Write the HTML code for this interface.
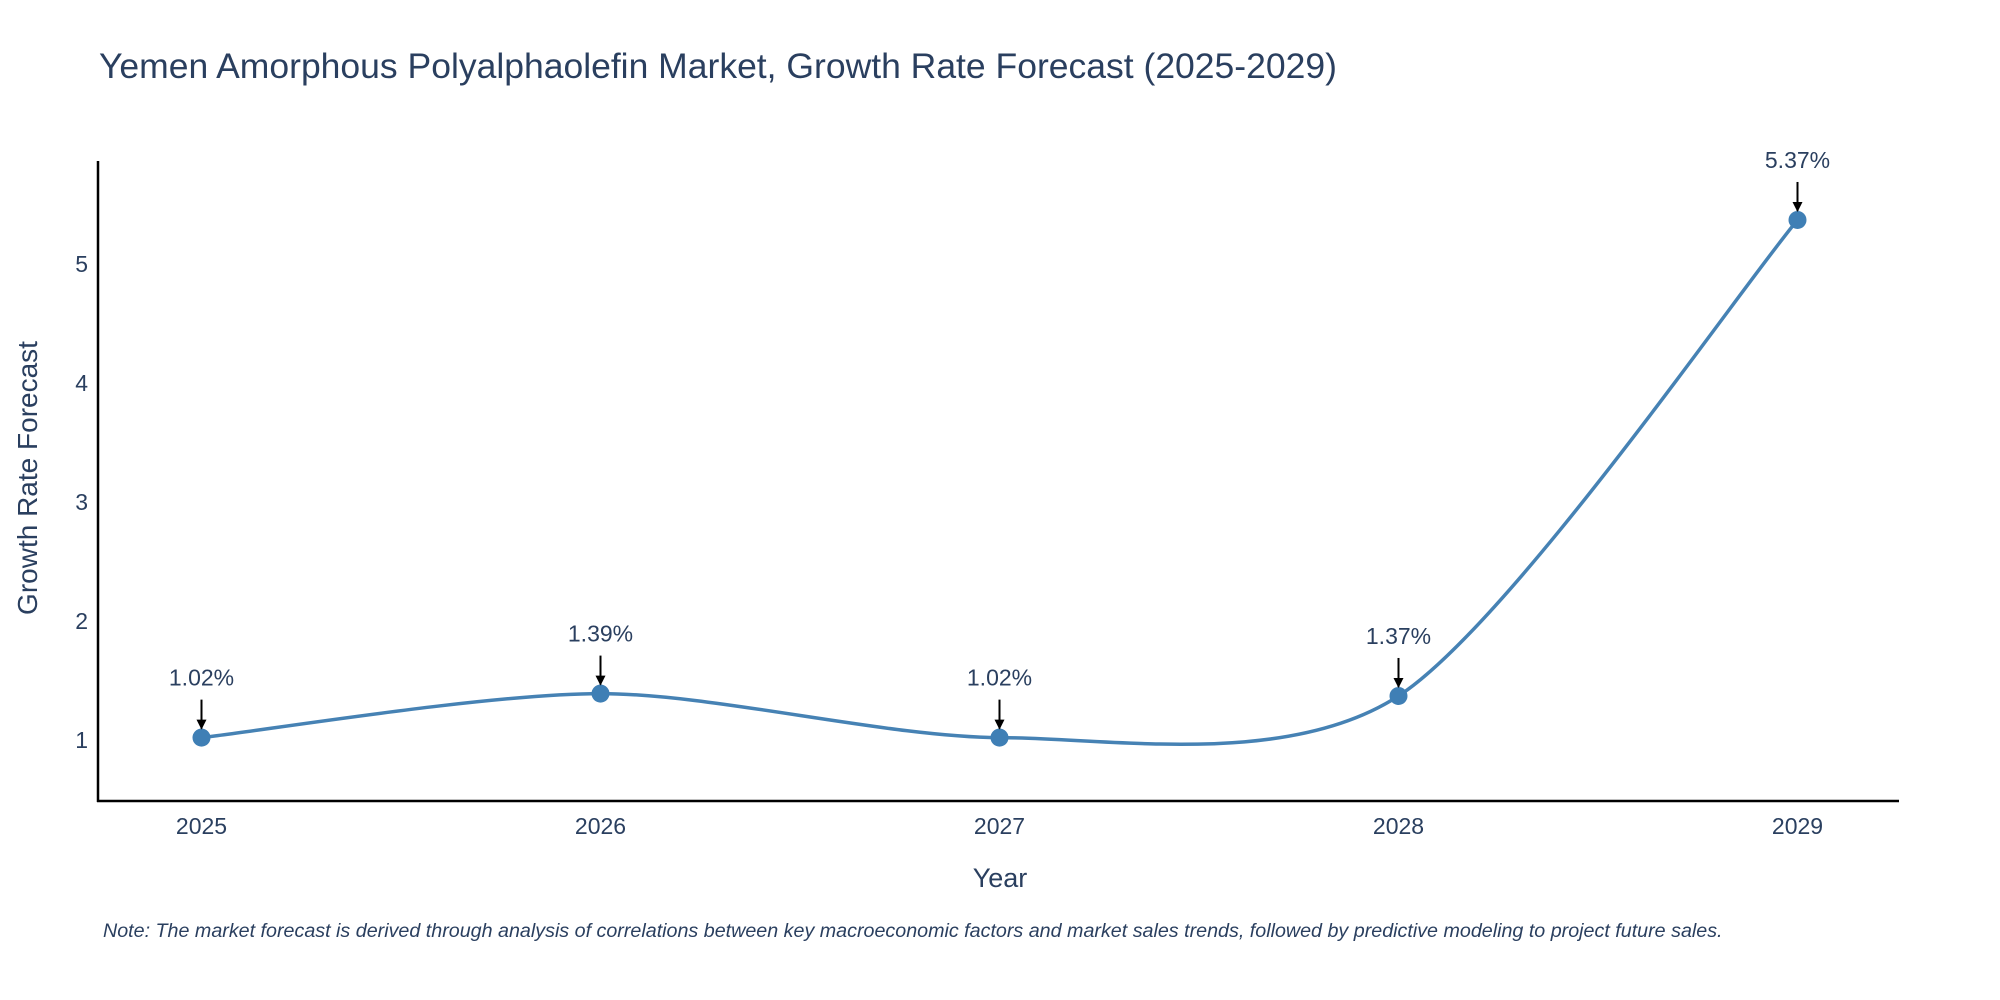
<!DOCTYPE html>
<html><head><meta charset="utf-8"><style>
body{margin:0;background:#fff;}
svg{display:block;font-family:"Liberation Sans",sans-serif;}
</style></head><body>
<svg id="chart" width="2000" height="1000">
<text x="99" y="78" font-size="35.5" fill="#2a3f5f">Yemen Amorphous Polyalphaolefin Market, Growth Rate Forecast (2025-2029)</text>
<g id="yticks"></g><g id="xticks"></g>
<line x1="98" y1="161" x2="98" y2="802" stroke="#000" stroke-width="2.5"/>
<line x1="97" y1="801" x2="1899" y2="801" stroke="#000" stroke-width="2.5"/>
<path id="line" fill="none" stroke="#4682b4" stroke-width="3.5"/>
<g id="marks"></g>
<text x="1000" y="887" font-size="27" fill="#2a3f5f" text-anchor="middle">Year</text>
<text transform="translate(37,478) rotate(-90)" font-size="28" fill="#2a3f5f" text-anchor="middle">Growth Rate Forecast</text>
<text x="103" y="937" font-size="19.7" font-style="italic" fill="#2a3f5f">Note: The market forecast is derived through analysis of correlations between key macroeconomic factors and market sales trends, followed by predictive modeling to project future sales.</text>
<defs><marker id="ah" viewBox="0 0 10 10" refX="9" refY="5" markerWidth="5" markerHeight="5" orient="auto"><path d="M0,0L10,5L0,10z" fill="#000"/></marker></defs>
</svg>
<script>
const years=[2025,2026,2027,2028,2029];
const values=[1.02,1.39,1.02,1.37,5.37];
const labels=["1.02%","1.39%","1.02%","1.37%","5.37%"];
const yTickVals=[1,2,3,4,5];
const NS="http://www.w3.org/2000/svg";
const xs=y=>201.5+(y-2025)*399;
const ys=v=>859-v*119;
function mk(t,a,p){const e=document.createElementNS(NS,t);for(const k in a)e.setAttribute(k,a[k]);p.appendChild(e);return e;}
const yt=document.getElementById('yticks'),xt=document.getElementById('xticks'),mg=document.getElementById('marks');
yTickVals.forEach(v=>{const t=mk('text',{x:88,y:ys(v)+8,'font-size':23,fill:'#2a3f5f','text-anchor':'end'},yt);t.textContent=v;

});
years.forEach(y=>{const t=mk('text',{x:xs(y),y:834,'font-size':23,fill:'#2a3f5f','text-anchor':'middle'},xt);t.textContent=y;

});
const P=years.map((y,i)=>[xs(y),ys(values[i])]);
let d=`M${P[0][0]},${P[0][1]}`;const s=0.14;
for(let i=0;i<P.length-1;i++){const p0=P[i-1]||P[i],p1=P[i],p2=P[i+1],p3=P[i+2]||P[i+1];
d+=` C${p1[0]+(p2[0]-p0[0])*s},${p1[1]+(p2[1]-p0[1])*s} ${p2[0]-(p3[0]-p1[0])*s},${p2[1]-(p3[1]-p1[1])*s} ${p2[0]},${p2[1]}`;}
document.getElementById('line').setAttribute('d',d);
P.forEach((p,i)=>{const c=mk('circle',{cx:p[0],cy:p[1],r:9,fill:'#3f7fb5'},mg);


const a=mk('line',{x1:p[0],y1:p[1]-38,x2:p[0],y2:p[1]-9,stroke:'#000','stroke-width':2,'marker-end':'url(#ah)'},mg);


const t=mk('text',{x:p[0],y:p[1]-52,'font-size':23,fill:'#2a3f5f','text-anchor':'middle'},mg);t.textContent=labels[i];

});
</script>
</body></html>
